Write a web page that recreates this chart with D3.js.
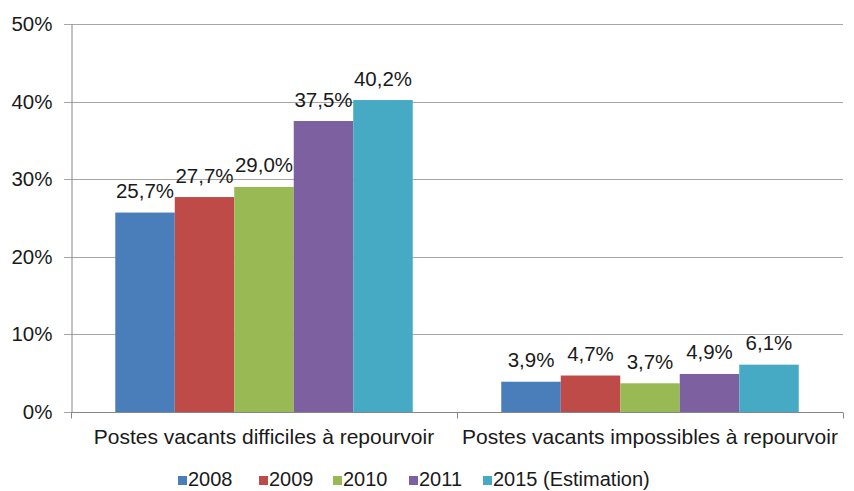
<!DOCTYPE html>
<html><head><meta charset="utf-8">
<script src="https://cdn.jsdelivr.net/npm/d3@7"></script>
<style>body{margin:0;background:#fff;} svg{display:block;font-family:"Liberation Sans",Arial,sans-serif;}</style>
</head><body>
<script>
const categories = ["Postes vacants difficiles à repourvoir", "Postes vacants impossibles à repourvoir"];
const seriesNames = ["2008", "2009", "2010", "2011", "2015 (Estimation)"];
const seriesValues = [
  [25.7, 3.9],
  [27.7, 4.7],
  [29.0, 3.7],
  [37.5, 4.9],
  [40.2, 6.1]
];
const colors = ["#4A7EBB", "#BE4B48", "#98B954", "#7D60A0", "#46AAC5"];
const yTicks = [0, 10, 20, 30, 40, 50];

const W = 854, H = 491;
const m = {left: 71, right: 11, top: 24, bottom: 79};
const FS = 20.5;
const svg = d3.select("body").append("svg").attr("width", W).attr("height", H);

const x0 = d3.scaleBand().domain(categories).range([m.left, W - m.right]).paddingInner(0).paddingOuter(0);
const x1 = d3.scaleBand().domain(seriesNames).range([0, x0.bandwidth()]).paddingInner(0).paddingOuter(0.744);
const y = d3.scaleLinear().domain([0, 50]).range([H - m.bottom, m.top]);

// gridlines
svg.append("g").selectAll("line").data(yTicks).join("line")
  .attr("x1", m.left - 7).attr("x2", W - m.right)
  .attr("y1", d => Math.round(y(d)) + 0.5).attr("y2", d => Math.round(y(d)) + 0.5)
  .attr("stroke", "#a6a6a6").attr("stroke-width", 1);

// y axis
const yAxis = svg.append("g").attr("transform", `translate(${m.left + 0.5},0)`)
  .call(d3.axisLeft(y).tickValues(yTicks).tickFormat(d => d + "%").tickSize(0).tickPadding(19));
yAxis.select(".domain").attr("stroke", "#868686");
yAxis.selectAll("text").attr("font-size", FS).attr("fill", "#1a1a1a").attr("font-family", "Liberation Sans, Arial, sans-serif");

// bars
const groups = svg.append("g").selectAll("g").data(categories).join("g")
  .attr("transform", d => `translate(${x0(d)},0)`);
groups.each(function(cat, ci) {
  const g = d3.select(this);
  seriesNames.forEach((s, si) => {
    const v = seriesValues[si][ci];
    g.append("rect")
      .attr("x", x1(s)).attr("width", x1.bandwidth())
      .attr("y", y(v)).attr("height", y(0) - y(v))
      .attr("fill", colors[si]);
    g.append("text")
      .attr("x", x1(s) + x1.bandwidth() / 2).attr("y", y(v) - 14.5)
      .attr("text-anchor", "middle").attr("font-size", FS).attr("fill", "#1a1a1a")
      .text(v.toFixed(1).replace(".", ",") + "%");
  });
});

// x axis
const xAxisY = Math.round(y(0)) + 0.5;
svg.append("line").attr("x1", m.left).attr("x2", W - m.right).attr("y1", xAxisY).attr("y2", xAxisY)
  .attr("stroke", "#868686");
const boundaries = [m.left, ...categories.map(c => x0(c) + x0.bandwidth())];
svg.append("g").selectAll("line").data(boundaries).join("line")
  .attr("x1", d => Math.round(d) + 0.5).attr("x2", d => Math.round(d) + 0.5)
  .attr("y1", xAxisY).attr("y2", xAxisY + 6).attr("stroke", "#868686");
svg.append("g").selectAll("text").data(categories).join("text")
  .attr("x", d => x0(d) + x0.bandwidth() / 2).attr("y", 444)
  .attr("text-anchor", "middle").attr("font-size", 21).attr("fill", "#1a1a1a")
  .text(d => d);

// legend
const legendX = [178, 259, 333, 409, 483];
const leg = svg.append("g").selectAll("g").data(seriesNames).join("g")
  .attr("transform", (d, i) => `translate(${legendX[i]},${486})`);
leg.append("rect").attr("x", 0).attr("y", -10).attr("width", 9).attr("height", 9).attr("fill", (d, i) => colors[i]);
leg.append("text").attr("x", 10).attr("y", 0).attr("font-size", 20).attr("fill", "#1a1a1a").text(d => d);
</script>
</body></html>
